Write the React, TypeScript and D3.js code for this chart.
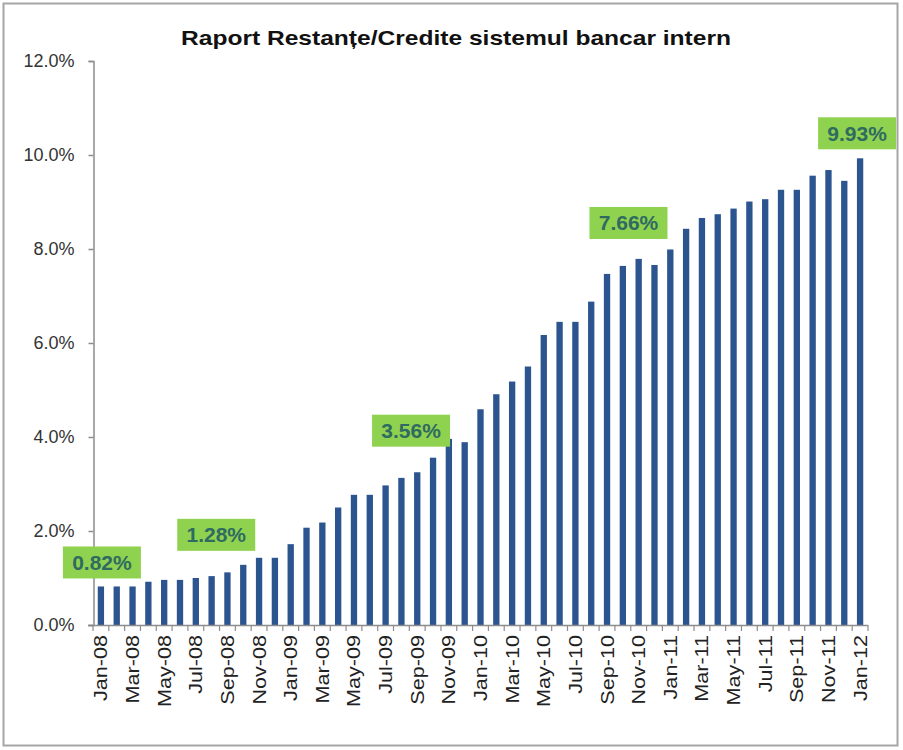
import React, { useEffect, useRef } from "react";
import * as d3 from "d3";

// Monthly labels Jan-08 .. Jan-12
const months: string[] = [
  "Jan-08", "Feb-08", "Mar-08", "Apr-08", "May-08", "Jun-08", "Jul-08", "Aug-08", "Sep-08", "Oct-08", "Nov-08", "Dec-08",
  "Jan-09", "Feb-09", "Mar-09", "Apr-09", "May-09", "Jun-09", "Jul-09", "Aug-09", "Sep-09", "Oct-09", "Nov-09", "Dec-09",
  "Jan-10", "Feb-10", "Mar-10", "Apr-10", "May-10", "Jun-10", "Jul-10", "Aug-10", "Sep-10", "Oct-10", "Nov-10", "Dec-10",
  "Jan-11", "Feb-11", "Mar-11", "Apr-11", "May-11", "Jun-11", "Jul-11", "Aug-11", "Sep-11", "Oct-11", "Nov-11", "Dec-11",
  "Jan-12",
];

// Ratio overdue / credits, %
const ratio: number[] = [
  0.82, 0.82, 0.82, 0.92, 0.96, 0.96, 1.0, 1.04, 1.12, 1.28, 1.43, 1.43,
  1.72, 2.07, 2.18, 2.5, 2.77, 2.77, 2.97, 3.13, 3.25, 3.56, 3.96, 3.89,
  4.59, 4.91, 5.18, 5.5, 6.17, 6.45, 6.45, 6.88, 7.47, 7.64, 7.79, 7.66,
  7.99, 8.43, 8.66, 8.74, 8.86, 9.01, 9.06, 9.26, 9.26, 9.56, 9.68, 9.45,
  9.93,
];

const yTicks: number[] = [0, 2, 4, 6, 8, 10, 12];

// Highlighted values
const calloutMonths: string[] = ["Jan-08", "Oct-08", "Oct-09", "Dec-10", "Jan-12"];
const calloutTexts: string[] = ["0.82%", "1.28%", "3.56%", "7.66%", "9.93%"];
// box offsets from the bar top (px)
const calloutShift: [number, number][] = [[1, -24], [-27, -30], [-22, -27], [-26, -42], [-3, -25]];

const W = 903;
const H = 750;

const App: React.FC = () => {
  const svgRef = useRef<SVGSVGElement>(null);

  useEffect(() => {
    if (!svgRef.current) return;
    const svg = d3.select(svgRef.current);
    svg.selectAll("*").remove();

    const font = "Arial, 'Liberation Sans', sans-serif";

    // outer frame
    svg
      .append("rect")
      .attr("x", 3.5)
      .attr("y", 3.5)
      .attr("width", 894)
      .attr("height", 742)
      .attr("fill", "#ffffff")
      .attr("stroke", "#a6a6a6")
      .attr("stroke-width", 2);

    const x = d3
      .scaleBand<string>()
      .domain(months)
      .range([93, 868])
      .paddingInner(0.6)
      .paddingOuter(0.3);

    const y = d3.scaleLinear().domain([0, 12]).range([625, 61]);

    // title
    svg
      .append("text")
      .attr("x", 456)
      .attr("y", 45)
      .attr("text-anchor", "middle")
      .attr("font-family", font)
      .attr("font-size", 21)
      .attr("font-weight", "bold")
      .attr("fill", "#111")
      .attr("textLength", 550)
      .attr("lengthAdjust", "spacingAndGlyphs")
      .text("Raport Restanțe/Credite  sistemul bancar intern");

    // bars
    svg
      .append("g")
      .selectAll("rect")
      .data(ratio)
      .join("rect")
      .attr("x", (_, i) => x(months[i]) as number)
      .attr("y", (d) => y(d))
      .attr("width", x.bandwidth())
      .attr("height", (d) => y(0) - y(d))
      .attr("fill", "#2c5590");

    // y axis
    const yAxis = d3
      .axisLeft(y)
      .tickValues(yTicks)
      .tickSize(5)
      .tickPadding(14)
      .tickFormat((d) => `${(d as number).toFixed(1)}%`);
    const gy = svg.append("g").attr("transform", "translate(93.5,0)").call(yAxis);
    gy.selectAll("path, line").attr("stroke", "#8c8c8c").attr("stroke-width", 1.5);
    gy.selectAll("text")
      .attr("font-family", font)
      .attr("font-size", 18)
      .attr("fill", "#333");

    // x axis: ticks on category boundaries
    const step = x.step();
    const edges = d3.range(months.length + 1).map((i) => 93 + i * step);
    const gx = svg.append("g");
    gx.append("line")
      .attr("x1", 88)
      .attr("x2", 868)
      .attr("y1", 625.5)
      .attr("y2", 625.5)
      .attr("stroke", "#8c8c8c")
      .attr("stroke-width", 1.5);
    gx.selectAll("line.tk")
      .data(edges)
      .join("line")
      .attr("class", "tk")
      .attr("x1", (d) => d)
      .attr("x2", (d) => d)
      .attr("y1", 625)
      .attr("y2", 631)
      .attr("stroke", "#8c8c8c")
      .attr("stroke-width", 1.2);
    gx.selectAll("text")
      .data(months.filter((_, i) => i % 2 === 0))
      .join("text")
      .attr(
        "transform",
        (d) => `translate(${(x(d) as number) + x.bandwidth() / 2 + 6.5},635) rotate(-90) scale(1.2,1)`
      )
      .attr("text-anchor", "end")
      .attr("font-family", font)
      .attr("font-size", 18)
      .attr("fill", "#222")
      .text((d) => d);

    // callouts
    const gc = svg.append("g");
    calloutMonths.forEach((m, i) => {
      const v = ratio[months.indexOf(m)];
      const cx = (x(m) as number) + x.bandwidth() / 2 + calloutShift[i][0];
      const cy = y(v) + calloutShift[i][1];
      gc.append("rect")
        .attr("x", cx - 39)
        .attr("y", cy - 16)
        .attr("width", 78)
        .attr("height", 32)
        .attr("fill", "#8fd24f");
      gc.append("text")
        .attr("x", cx)
        .attr("y", cy + 7.5)
        .attr("text-anchor", "middle")
        .attr("font-family", font)
        .attr("font-size", 21)
        .attr("font-weight", "bold")
        .attr("fill", "#2f6b60")
        .text(calloutTexts[i]);
    });
  }, []);

  return (
    <div style={{ position: "absolute", left: 0, top: 0 }}>
      <svg ref={svgRef} width={W} height={H} style={{ display: "block" }} />
    </div>
  );
};

export default App;
